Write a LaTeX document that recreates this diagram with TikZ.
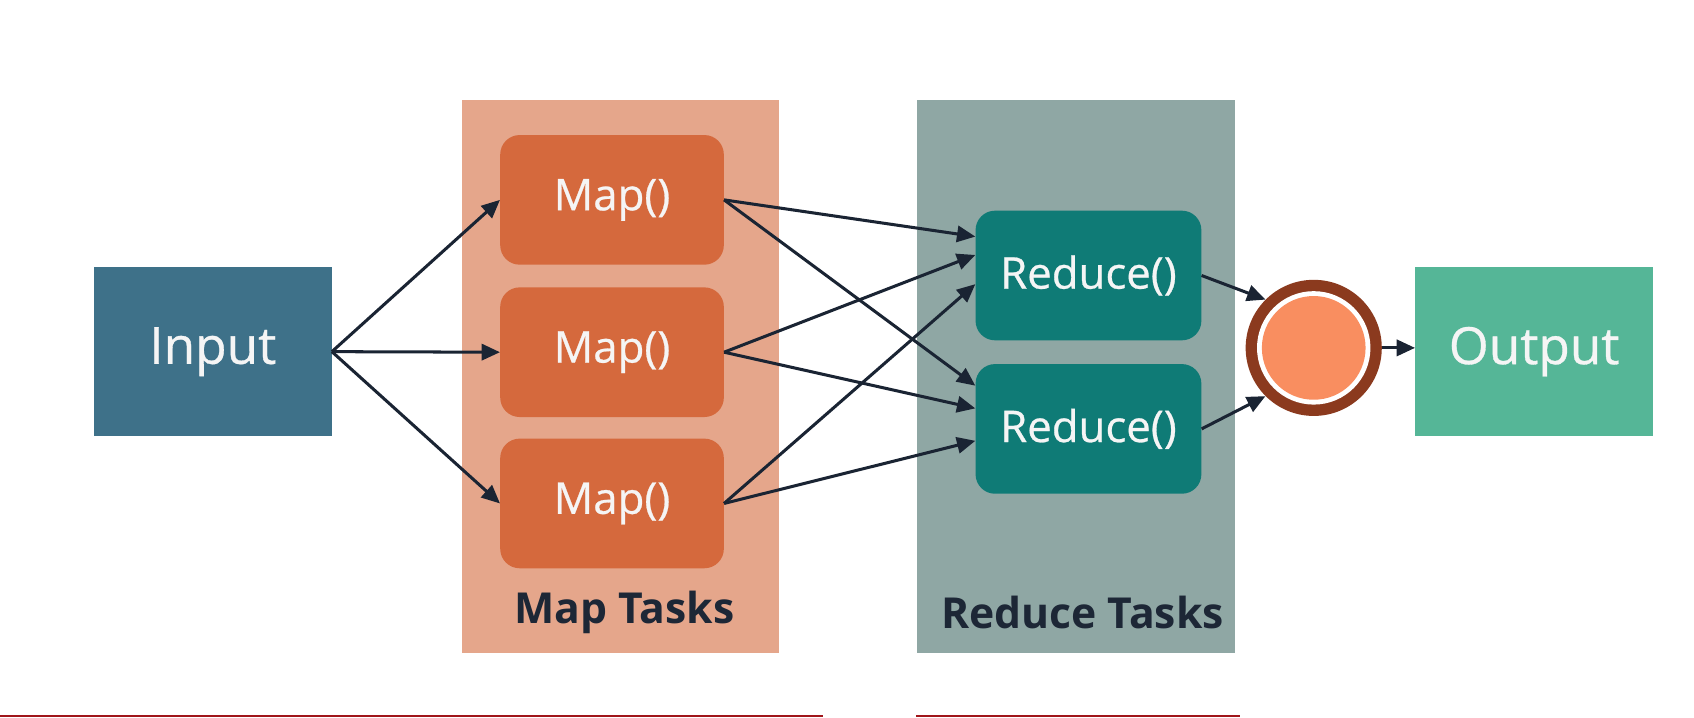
\documentclass[tikz,border=0pt]{standalone}
\usepackage{fontspec}
\setmainfont{Open Sans}
\usetikzlibrary{arrows.meta,calc}
\definecolor{inputc}{HTML}{3E7189}
\definecolor{mappanel}{HTML}{E5A68B}
\definecolor{mapbox}{HTML}{D5693D}
\definecolor{redpanel}{HTML}{8FA7A4}
\definecolor{redbox}{HTML}{0F7B76}
\definecolor{outc}{HTML}{55B697}
\definecolor{arrowc}{HTML}{1A2433}
\definecolor{labelc}{HTML}{1D2736}
\definecolor{ringc}{HTML}{8B3A1E}
\definecolor{orangec}{HTML}{F98E60}
\definecolor{txtc}{HTML}{F5F5F5}
\definecolor{barc}{HTML}{A0161A}
\begin{document}
\begin{tikzpicture}[x=1pt,y=-1pt,
  panel/.style={rectangle, inner sep=0pt, minimum width=294pt, minimum height=511pt},
  endbox/.style={rectangle, inner sep=0pt, minimum width=220pt, minimum height=157pt,
    text=txtc, font=\fontsize{47.5}{56}\selectfont\addfontfeatures{FakeBold=0.6}},
  taskbox/.style={rectangle, rounded corners=18pt, inner sep=0pt, minimum width=207pt,
    minimum height=120pt, text=txtc, font=\fontsize{40.5}{48}\selectfont\addfontfeatures{FakeBold=0.6}},
  tasklabel/.style={text=labelc, font=\bfseries\fontsize{39.5}{47}\selectfont, inner sep=0pt},
  arr/.style={draw=arrowc, line width=2.8pt, -{Triangle[length=17pt,width=15pt]}},
]
\useasboundingbox (0,0) rectangle (1568,664);
\fill[white] (0,0) rectangle (1568,664);

% panels
\node[panel, fill=mappanel, minimum width=293pt] (mp) at (574.5,348.5) {};
\node[panel, fill=redpanel] (rp) at (996,348.5) {};
\node[tasklabel] (mpl) at (578,567) {Map Tasks};
\node[tasklabel] (rpl) at (1002,567) {Reduce Tasks};

% boxes
\node[endbox, fill=inputc] (in) at (197,325.5) {Input};
\node[endbox, fill=outc] (out) at (1420,325.5) {Output};
\node[taskbox, fill=mapbox] (m1) at (566.5,185) {Map()};
\node[taskbox, fill=mapbox] (m2) at (566.5,326) {Map()};
\node[taskbox, fill=mapbox] (m3) at (566.5,466) {Map()};
\node[taskbox, fill=redbox, minimum width=209pt] (r1) at (1007.5,255) {Reduce()};
\node[taskbox, fill=redbox, minimum width=209pt] (r2) at (1007.5,397) {Reduce()};

% combiner circle
\node[circle, inner sep=0pt, minimum size=126pt, fill=ringc] (circ) at (1216,322) {};
\node[circle, inner sep=0pt, minimum size=105pt, fill=white] (circw) at (circ.center) {};
\node[circle, inner sep=0pt, minimum size=96pt, fill=orangec] (circo) at (circ.center) {};

% connectors
\draw[arr] (in.east) -- (m1.west);
\draw[arr] (in.east) -- (m2.west);
\draw[arr] (in.east) -- (m3.west);

\draw[arr] (m1.east) -- ($(r1.west)+(0,-36)$);
\draw[arr] (m2.east) -- ($(r1.west)+(0,-19)$);
\draw[arr] (m3.east) -- ($(r1.west)+(0,8)$);
\draw[arr] (m1.east) -- ($(r2.west)+(0,-40)$);
\draw[arr] (m2.east) -- ($(r2.west)+(0,-19)$);
\draw[arr] (m3.east) -- ($(r2.west)+(0,11)$);

\draw[arr] (r1.east) -- (circ.135);
\draw[arr] (r2.east) -- (circ.225);
\draw[arr] (circ.east) -- (circ.east -| out.west);

% bottom bars
\coordinate (b1) at (0,663);
\coordinate (b2) at (762,663);
\coordinate (b3) at (848,663);
\coordinate (b4) at (1148,663);
\draw[barc, line width=1.5pt] (b1) -- (b2);
\draw[barc, line width=1.5pt] (b3) -- (b4);
\end{tikzpicture}
\end{document}
